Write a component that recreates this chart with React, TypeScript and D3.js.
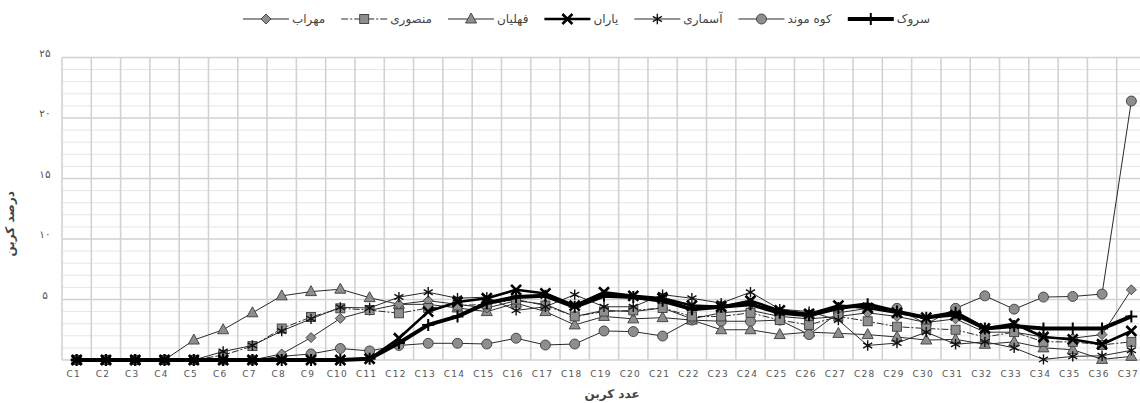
import React, { useEffect, useRef } from "react";
import * as d3 from "d3";

// Carbon number categories
const categories = [
  "C1", "C2", "C3", "C4", "C5", "C6", "C7", "C8", "C9", "C10",
  "C11", "C12", "C13", "C14", "C15", "C16", "C17", "C18", "C19", "C20",
  "C21", "C22", "C23", "C24", "C25", "C26", "C27", "C28", "C29", "C30",
  "C31", "C32", "C33", "C34", "C35", "C36", "C37",
];

// Carbon percentage per formation
const sarvak = [0, 0, 0, 0, 0, 0, 0, 0, 0, 0, 0.1, 1.4, 2.9, 3.6, 4.7, 5.2, 5.3, 4.4, 5.3, 5.2, 4.9, 4.2, 4.4, 4.6, 3.9, 3.7, 4.3, 4.6, 4.0, 3.5, 3.9, 2.6, 2.8, 2.6, 2.6, 2.6, 3.6];
const kuhMond = [0, 0, 0, 0, 0, 0, 0, 0.3, 0.5, 0.95, 0.75, 1.2, 1.38, 1.38, 1.32, 1.8, 1.24, 1.32, 2.4, 2.35, 1.98, 3.3, 3.2, 3.2, 3.3, 2.1, 3.9, 4.27, 4.27, 2.97, 4.27, 5.3, 4.2, 5.2, 5.25, 5.45, 21.4];
const asmari = [0, 0, 0, 0, 0, 0.7, 1.2, 2.4, 3.4, 4.35, 4.3, 5.2, 5.6, 5.1, 5.2, 4.1, 4.4, 5.4, 4.4, 4.4, 5.4, 5.1, 4.7, 5.6, 4.2, 4.0, 3.3, 1.2, 1.4, 2.3, 1.3, 1.5, 1.0, 0.05, 0.3, 0.35, 0.8];
const yaran = [0, 0, 0, 0, 0, 0, 0, 0, 0, 0, 0.1, 1.8, 4.0, 4.8, 5.1, 5.8, 5.5, 4.5, 5.6, 5.3, 5.1, 4.5, 4.4, 4.9, 4.1, 3.8, 4.5, 4.3, 3.9, 3.5, 3.7, 2.6, 3.0, 1.9, 1.7, 1.3, 2.4];
const fahliyan = [0, 0, 0, 0, 1.65, 2.5, 3.9, 5.3, 5.65, 5.85, 5.15, 4.6, 4.6, 4.3, 4.0, 4.7, 4.0, 2.9, 3.6, 3.4, 3.5, 3.3, 2.5, 2.5, 2.1, 2.3, 2.2, 2.1, 1.9, 1.65, 1.7, 1.3, 1.5, 1.0, 0.85, 0.05, 0.3];
const mansuri = [0, 0, 0, 0, 0, 0.4, 1.15, 2.6, 3.55, 4.27, 4.13, 3.86, 4.3, 4.5, 4.6, 5.0, 4.5, 3.6, 4.0, 4.1, 4.3, 3.6, 3.6, 3.9, 3.3, 2.9, 3.6, 3.2, 2.75, 2.6, 2.5, 1.9, 2.3, 1.5, 1.5, 1.25, 1.5];
const mehrab = [0, 0, 0, 0, 0, 0, 0, 0.5, 1.85, 3.44, 4.1, 4.6, 4.9, 4.6, 4.3, 4.9, 4.6, 3.6, 4.1, 4.0, 4.3, 3.4, 3.9, 4.1, 3.6, 3.4, 3.6, 3.9, 3.6, 3.1, 3.4, 2.3, 2.3, 1.9, 1.8, 2.1, 5.8];

// Legend names, right to left
const seriesNames = ["سروک", "کوه موند", "آسماری", "یاران", "فهلیان", "منصوری", "مهراب"];

const yTicks = [5, 10, 15, 20, 25];
const yTitle = "درصد کربن";
const xTitle = "عدد کربن";

type Marker = "plus" | "circle" | "asterisk" | "cross" | "triangle" | "square" | "diamond";
interface Series {
  name: string;
  values: number[];
  marker: Marker;
  width: number;
  dash?: string;
}

const series: Series[] = [
  { name: seriesNames[0], values: sarvak, marker: "plus", width: 4 },
  { name: seriesNames[1], values: kuhMond, marker: "circle", width: 1 },
  { name: seriesNames[2], values: asmari, marker: "asterisk", width: 1 },
  { name: seriesNames[3], values: yaran, marker: "cross", width: 2.6 },
  { name: seriesNames[4], values: fahliyan, marker: "triangle", width: 1 },
  { name: seriesNames[5], values: mansuri, marker: "square", width: 1, dash: "7,2,2,2" },
  { name: seriesNames[6], values: mehrab, marker: "diamond", width: 1 },
];

// Paint order: filled symbols underneath, line-art symbols on top
const drawOrder = [4, 1, 6, 5, 2, 3, 0];

const persianDigits = (n: number) =>
  String(n).replace(/[0-9]/g, (d) => "۰۱۲۳۴۵۶۷۸۹"[+d]);

const W = 1140;
const H = 403;
const margin = { left: 62, right: -6, top: 57.5, bottom: 43 };

const FONT_FA = "'DejaVu Sans', sans-serif";
const GREY_FILL = "#8e8e8e";
const GREY_EDGE = "#3c3c3c";

function drawMarker(g: d3.Selection<SVGGElement, unknown, null, undefined>, m: Marker, x: number, y: number) {
  const r = 5;
  if (m === "circle") {
    g.append("circle").attr("cx", x).attr("cy", y).attr("r", r)
      .attr("fill", GREY_FILL).attr("stroke", GREY_EDGE).attr("stroke-width", 0.9);
  } else if (m === "square") {
    g.append("rect").attr("x", x - 4.5).attr("y", y - 4.5).attr("width", 9).attr("height", 9)
      .attr("fill", GREY_FILL).attr("stroke", GREY_EDGE).attr("stroke-width", 0.9);
  } else if (m === "triangle") {
    g.append("path").attr("d", `M${x},${y - 6}L${x + 5.5},${y + 4}L${x - 5.5},${y + 4}Z`)
      .attr("fill", GREY_FILL).attr("stroke", GREY_EDGE).attr("stroke-width", 0.9);
  } else if (m === "diamond") {
    g.append("path").attr("d", `M${x},${y - 5}L${x + 5},${y}L${x},${y + 5}L${x - 5},${y}Z`)
      .attr("fill", GREY_FILL).attr("stroke", GREY_EDGE).attr("stroke-width", 0.9);
  } else if (m === "plus") {
    g.append("path").attr("d", `M${x},${y - 6}V${y + 6}M${x - 6},${y}H${x + 6}`)
      .attr("stroke", "#000").attr("stroke-width", 2).attr("fill", "none");
  } else if (m === "cross") {
    g.append("path").attr("d", `M${x - 5},${y - 5}L${x + 5},${y + 5}M${x - 5},${y + 5}L${x + 5},${y - 5}`)
      .attr("stroke", "#000").attr("stroke-width", 2.6).attr("fill", "none");
  } else if (m === "asterisk") {
    const a = 5.2, c = a * 0.87, s = a * 0.5;
    g.append("path")
      .attr("d", `M${x},${y - a}V${y + a}M${x - c},${y - s}L${x + c},${y + s}M${x - c},${y + s}L${x + c},${y - s}`)
      .attr("stroke", "#111").attr("stroke-width", 1.4).attr("fill", "none");
  }
}

export default function App() {
  const ref = useRef<SVGSVGElement>(null);

  useEffect(() => {
    const svg = d3.select(ref.current!);
    svg.selectAll("*").remove();

    const x = d3.scaleBand<string>().domain(categories)
      .range([margin.left, W - margin.right]).paddingInner(0).paddingOuter(0);
    const y = d3.scaleLinear().domain([0, 25]).range([H - margin.bottom, margin.top]);
    const cx = (c: string) => (x(c) as number) + x.bandwidth() / 2;

    const grid = svg.append("g");
    // minor horizontal grid
    const minor = d3.range(0, 26).filter((v) => v % 5 !== 0);
    grid.selectAll("line.minor").data(minor).join("line")
      .attr("x1", margin.left).attr("x2", W - margin.right)
      .attr("y1", (d) => y(d)).attr("y2", (d) => y(d))
      .attr("stroke", "#e6e6e6").attr("stroke-width", 1);
    // major horizontal grid
    grid.selectAll("line.major").data([0, ...yTicks]).join("line")
      .attr("x1", margin.left).attr("x2", W - margin.right)
      .attr("y1", (d) => y(d)).attr("y2", (d) => y(d))
      .attr("stroke", "#d2d2d2").attr("stroke-width", 1.6);
    // vertical grid at category boundaries
    const bounds = [...categories.map((c) => x(c) as number), W - margin.right];
    grid.append("g").selectAll("line").data(bounds).join("line")
      .attr("x1", (d) => d).attr("x2", (d) => d)
      .attr("y1", y(25)).attr("y2", y(0))
      .attr("stroke", "#d2d2d2").attr("stroke-width", 1.6);

    // y tick labels
    svg.append("g").selectAll("text").data(yTicks).join("text")
      .attr("x", 45).attr("y", (d) => y(d) - 1)
      .attr("text-anchor", "middle").attr("font-family", FONT_FA)
      .attr("font-size", 10.5).attr("fill", "#555")
      .text((d) => persianDigits(d));

    // x tick labels
    svg.append("g").selectAll("text").data(categories).join("text")
      .attr("x", (d) => cx(d) - 3).attr("y", y(0) + 17)
      .attr("text-anchor", "middle").attr("font-family", "'DejaVu Sans', sans-serif")
      .attr("font-size", 9).attr("letter-spacing", 1.2).attr("fill", "#555")
      .text((d) => d);

    // axis titles
    svg.append("text")
      .attr("transform", `translate(14,${(y(0) + y(25)) / 2 + 15}) rotate(-90)`)
      .attr("text-anchor", "middle").attr("font-family", FONT_FA)
      .attr("font-size", 12).attr("font-weight", "bold").attr("fill", "#444")
      .text(yTitle);
    svg.append("text")
      .attr("x", 612).attr("y", 398)
      .attr("text-anchor", "middle").attr("font-family", FONT_FA)
      .attr("font-size", 12).attr("font-weight", "bold").attr("fill", "#444")
      .text(xTitle);

    // series
    const line = d3.line<number>().x((_, i) => cx(categories[i])).y((d) => y(d));
    const plot = svg.append("g");
    drawOrder.forEach((si) => {
      const s = series[si];
      const g = plot.append("g");
      g.append("path").attr("d", line(s.values) as string)
        .attr("fill", "none").attr("stroke", s.width > 2 ? "#000" : "#2a2a2a")
        .attr("stroke-width", s.width).attr("stroke-linejoin", "round")
        .attr("stroke-dasharray", s.dash ?? null);
      s.values.forEach((v, i) => drawMarker(g, s.marker, cx(categories[i]), y(v)));
    });

    // legend, laid out right to left
    const legend = svg.append("g");
    let right = 930;
    const ly = 19;
    series.forEach((s) => {
      const t = legend.append("text")
        .attr("x", right).attr("y", ly + 4)
        .attr("text-anchor", "end").attr("font-family", FONT_FA)
        .attr("font-size", 12).attr("fill", "#444")
        .text(s.name);
      const tw = (t.node() as SVGTextElement).getComputedTextLength();
      const lineEnd = right - tw - 3;
      const lineStart = lineEnd - 46;
      const g = legend.append("g");
      g.append("line").attr("x1", lineStart).attr("x2", lineEnd)
        .attr("y1", ly).attr("y2", ly)
        .attr("stroke", s.width > 2 ? "#000" : "#2a2a2a")
        .attr("stroke-width", s.width)
        .attr("stroke-dasharray", s.dash ?? null);
      drawMarker(g, s.marker, (lineStart + lineEnd) / 2, ly);
      right = lineStart - 16;
    });
  }, []);

  return (
    <svg
      ref={ref}
      width={W}
      height={H}
      style={{ position: "absolute", left: 0, top: 0, background: "#fff", display: "block" }}
    />
  );
}
